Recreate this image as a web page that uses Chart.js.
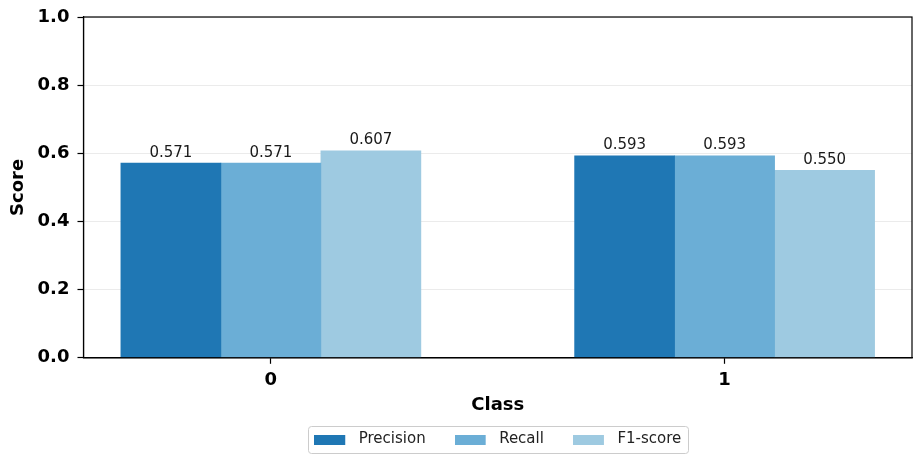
<!DOCTYPE html>
<html>
<head>
<meta charset="utf-8">
<script src="https://cdn.jsdelivr.net/npm/chart.js@4/dist/chart.umd.min.js"></script>
<style>
    html, body { margin: 0; padding: 0; background: #fff; }
    #wrap { width: 922px; height: 464px; }
</style>
</head>
<body>
<div id="wrap"><canvas id="chart"></canvas></div>
<script>
// classes on the x axis
const classes = ['0', '1'];
// per-class metric values
const precision = [0.571, 0.593];
const recall = [0.571, 0.593];
const f1score = [0.607, 0.550];
const metricNames = ['Precision', 'Recall', 'F1-score'];
const yTicks = [0, 0.2, 0.4, 0.6, 0.8, 1.0];

const font = "'DejaVu Sans', sans-serif";
const colors = ['#1f77b4', '#6baed6', '#9ecae1'];

function toPoints(values) {
    return values.map((v, i) => ({x: i, y: v}));
}

// legend swatch: 31x10 patch with some empty room on its right,
// so the text sits a bit further from the patch
function swatch(color) {
    const c = document.createElement('canvas');
    c.width = 37;
    c.height = 10;
    const g = c.getContext('2d');
    g.fillStyle = color;
    g.fillRect(0, 0, 31, 10);
    return c;
}

// the tick labels may hang outside the plot, the outer padding takes care of that
function noEdgePadding(axis) {
    axis.paddingTop = 0;
    axis.paddingBottom = 0;
    axis.paddingLeft = 0;
    axis.paddingRight = 0;
}

// draws the value above every bar
const valueLabels = {
    id: 'valueLabels',
    afterDatasetsDraw(chart) {
        const ctx = chart.ctx;
        ctx.save();
        ctx.font = '15px ' + font;
        ctx.fillStyle = '#1a1a1a';
        ctx.textAlign = 'center';
        ctx.textBaseline = 'bottom';
        chart.data.datasets.forEach((ds, di) => {
            chart.getDatasetMeta(di).data.forEach((bar, i) => {
                ctx.fillText(ds.data[i].y.toFixed(3), bar.x, bar.y - 3);
            });
        });
        ctx.restore();
    }
};

// closes the axes box (top and right spines)
const frame = {
    id: 'frame',
    afterDatasetsDraw(chart) {
        const a = chart.chartArea;
        const ctx = chart.ctx;
        ctx.save();
        ctx.strokeStyle = '#000';
        ctx.lineWidth = 1.2;
        ctx.strokeRect(a.left, a.top, a.right - a.left, a.bottom - a.top);
        ctx.restore();
    }
};

// box round the legend
const legendBox = {
    id: 'legendBox',
    afterDraw(chart) {
        const boxes = chart.legend.legendHitBoxes;
        if (!boxes.length) return;
        let l = Infinity, r = -Infinity, t = Infinity, b = -Infinity;
        boxes.forEach(h => {
            l = Math.min(l, h.left); r = Math.max(r, h.left + h.width);
            t = Math.min(t, h.top); b = Math.max(b, h.top + h.height);
        });
        const ctx = chart.ctx;
        ctx.save();
        ctx.strokeStyle = '#cccccc';
        ctx.lineWidth = 1;
        ctx.beginPath();
        ctx.roundRect(Math.round(l - 6) + 0.5, Math.round(t - 6) + 0.5, Math.round(r - l + 13), Math.round(b - t + 12), 3);
        ctx.stroke();
        ctx.restore();
    }
};

new Chart(document.getElementById('chart'), {
    type: 'bar',
    data: {
        datasets: [
            {label: metricNames[0], data: toPoints(precision), backgroundColor: colors[0]},
            {label: metricNames[1], data: toPoints(recall), backgroundColor: colors[1]},
            {label: metricNames[2], data: toPoints(f1score), backgroundColor: colors[2]}
        ]
    },
    options: {
        responsive: true,
        maintainAspectRatio: false,
        animation: false,
        layout: {padding: {top: 17, right: 10, bottom: 7, left: 4}},
        datasets: {bar: {barThickness: 100}},
        plugins: {
            legend: {
                position: 'bottom',
                fullSize: false,
                labels: {
                    usePointStyle: true,
                    pointStyleWidth: 37,
                    boxHeight: 10,
                    padding: 29,
                    color: '#222',
                    font: {family: font, size: 15},
                    generateLabels: chart => {
                        const items = Chart.defaults.plugins.legend.labels.generateLabels(chart);
                        items.forEach((it, i) => { it.pointStyle = swatch(colors[i]); });
                        return items;
                    }
                }
            },
            tooltip: {enabled: false}
        },
        scales: {
            x: {
                type: 'linear',
                min: -0.413,
                max: 1.413,
                offset: false,
                afterFit: noEdgePadding,
                border: {display: true, color: '#000', width: 1.2},
                grid: {offset: false, drawOnChartArea: false, tickLength: 6, tickColor: '#000', tickWidth: 1.2},
                ticks: {
                    stepSize: 1,
                    includeBounds: false,
                    padding: 6,
                    color: '#000',
                    font: {family: font, size: 18, weight: 'bold'},
                    callback: v => classes[v] ?? ''
                },
                title: {display: true, text: 'Class', color: '#000', padding: {top: -3, bottom: -13},
                    font: {family: font, size: 18, weight: 'bold'}}
            },
            y: {
                min: 0,
                max: 1,
                afterFit: noEdgePadding,
                border: {display: true, color: '#000', width: 1.2},
                grid: {color: '#ebebeb', lineWidth: 1, tickLength: 6, tickColor: '#000', tickWidth: 1.2},
                afterBuildTicks: axis => { axis.ticks = yTicks.map(v => ({value: v})); },
                ticks: {
                    padding: 8,
                    color: '#000',
                    font: {family: font, size: 18, weight: 'bold'},
                    callback: v => v.toFixed(1)
                },
                title: {display: true, text: 'Score', color: '#000', padding: {bottom: 0},
                    font: {family: font, size: 18, weight: 'bold'}}
            }
        }
    },
    plugins: [valueLabels, frame, legendBox]
});
</script>
</body>
</html>
